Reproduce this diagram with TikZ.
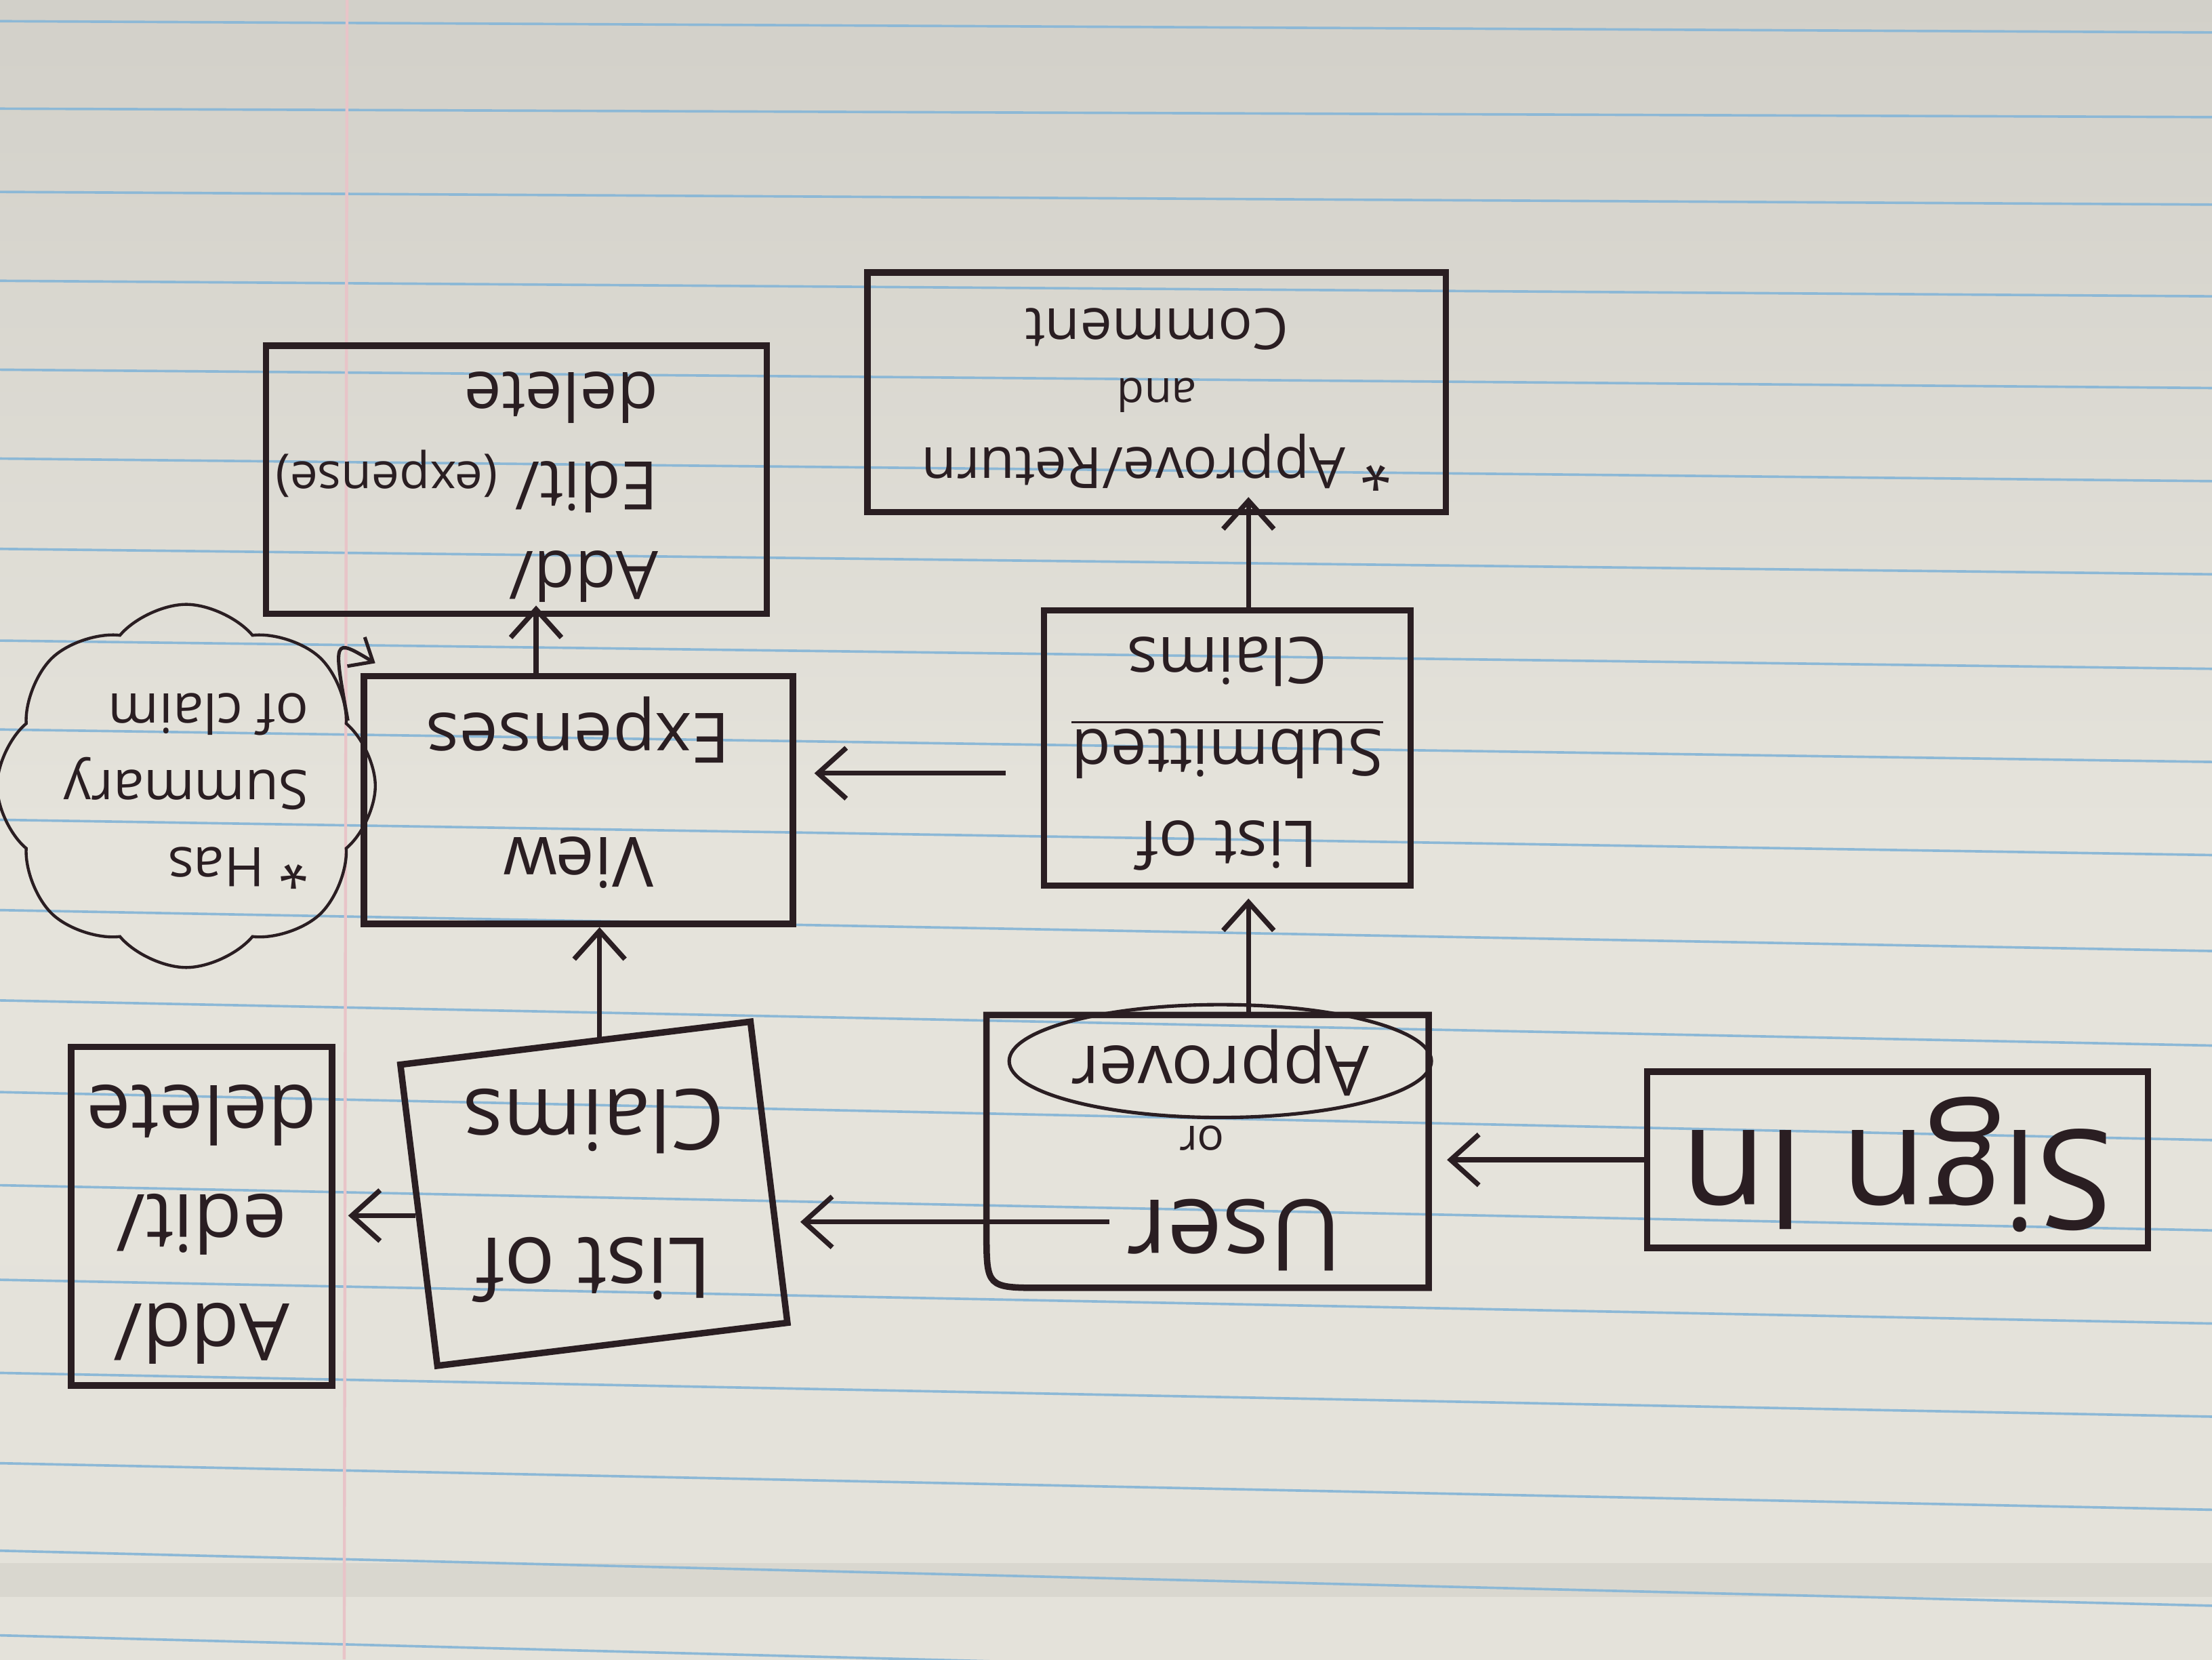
\documentclass[tikz,border=0pt]{standalone}
\usepackage{fontspec}
\setmainfont{Open Sans}
\usetikzlibrary{arrows.meta, positioning, shapes.geometric, shapes.symbols}
\definecolor{ink}{RGB}{42,30,34}
\definecolor{paper}{RGB}{229,227,219}
\definecolor{paperdark}{RGB}{210,208,201}
\definecolor{rule}{RGB}{140,184,214}
\definecolor{margin}{RGB}{232,196,200}
% upside-down text, as on the sheet
\newcommand{\flip}[1]{\rotatebox[origin=c]{180}{\begin{tabular}{@{}c@{}}#1\end{tabular}}}
\newcommand{\flipl}[2][0mm]{\rotatebox[origin=c]{180}{\begin{tabular}{@{\hspace{#1}}l@{}}#2\end{tabular}}}

\begin{document}
\begin{tikzpicture}[x=0.1mm, y=-0.1mm,
  box/.style={draw=ink, line width=1.3pt, inner sep=0pt, text=ink},
  flow/.style={draw=ink, line width=1pt, -{Straight Barb[length=2mm, width=3.6mm]}},
  hookflow/.style={draw=ink, line width=0.7pt, -{Straight Barb[length=1.4mm, width=2.4mm]}}]
  \useasboundingbox (0,0) rectangle (1568,1176);
  % paper
  \shade[top color=paperdark, bottom color=paper!95!paperdark, middle color=paper] (0,0) rectangle (1568,1176);
  \fill[paperdark, opacity=0.6] (0,1108) rectangle (1568,1132);
  \foreach \l/\r in {15/23,77/83,136/145,199/210,262/275,325/341,389/407,454/474,517/540,581/606,645/674,709/741,774/808,840/872,907/938,973/1004,1037/1070,1099/1138,1159/1200}
    \draw[rule, line width=0.5pt] (0,\l) -- (1568,\r);
  \draw[margin, line width=0.6pt] (246,0) -- (244,1176);

  % boxes
  \node[box, minimum width=35.5mm, minimum height=12.5mm, font=\fontsize{28}{30}\selectfont] (signin) at (1345,822) {\flip{Sign In}};
  \node[minimum width=31.2mm, minimum height=19.2mm, inner sep=0pt] (user) at (856,816) {};
  \draw[box] (user.north west) -- (user.north east) -- (user.south east) -- ([xshift=4mm]user.south west) .. controls (user.south west) .. ([yshift=4mm]user.south west) -- cycle;
  \node[text=ink, font=\fontsize{20}{22}\selectfont] (userlbl) at (875,866) {\flip{User}};
  \node[text=ink, font=\fontsize{9}{10}\selectfont] (orlbl) at (852,805) {\flip{or}};
  \node[draw=ink, line width=0.7pt, ellipse, inner sep=0pt, minimum width=25mm, minimum height=8mm, text=ink, font=\fontsize{14}{15}\selectfont] (approver) at (865,752) {\flip{Approver}};

  \node[box, rotate=7, minimum width=25mm, minimum height=21.5mm] (claimlist) at (421,846) {};
  \node[text=ink, font=\fontsize{17}{30}\selectfont] (claimtext) at (claimlist.center) {\flip{List of\\Claims}};
  \node[box, minimum width=18.5mm, minimum height=24mm, font=\fontsize{16}{22}\selectfont] (adddel) at (143,862) {\flip{Add/\\edit/\\delete}};
  \node[box, minimum width=30.4mm, minimum height=16.2mm, font=\fontsize{14}{25}\selectfont] (viewexp) at (410,567) {\flip{View\\Expenses}};
  \node[box, minimum width=35.5mm, minimum height=18mm, font=\fontsize{13.5}{18}\selectfont] (expedit) at (366,340) {\flipl[7mm]{Add/\\Edit/ {\fontsize{10}{12}\selectfont (expense)}\\delete}};
  \node[box, minimum width=26mm, minimum height=19.5mm, font=\fontsize{13}{18.5}\selectfont] (submitted) at (870,530) {\raisebox{1.5mm}{\flip{List of\\\underline{Submitted}\\Claims}}};
  \node[box, minimum width=41mm, minimum height=17mm, font=\fontsize{11.5}{14}\selectfont] (approve) at (820,278) {\flip{* Approve/Return\\{\fontsize{9}{10}\selectfont and}\\Comment}};
  \node[draw=ink, line width=0.6pt, cloud, cloud puffs=8, cloud puff arc=100, cloud ignores aspect, minimum width=18mm, minimum height=15.5mm, inner sep=0pt, text=ink, font=\fontsize{11}{15.5}\selectfont] (cloud) at (132,557) {\flipl{* Has\\Summary\\of claim}};
  \coordinate (hook) at (266,470);

  % connectors
  \draw[flow, shorten >=1.3mm] (signin.west) -- (signin.west -| user.east);
  \draw[flow, shorten >=2mm] (userlbl.west) -- (userlbl.west -| claimlist.east);
  \draw[flow, shorten >=0.9mm] (claimlist.west) -- (claimlist.west -| adddel.east);
  \draw[flow] ([xshift=1.5mm]viewexp.south |- claimlist.north) -- ([xshift=1.5mm]viewexp.south);
  \draw[flow, shorten >=-0.8mm] ([xshift=1.4mm]expedit.south |- viewexp.north) -- ([xshift=1.4mm]expedit.south);
  \draw[flow, shorten >=0.7mm] ([xshift=1.5mm]submitted.south |- user.north) -- ([xshift=1.5mm]submitted.south);
  \draw[flow, shorten <=2.5mm, shorten >=1.3mm] ([yshift=-1.8mm]submitted.west) -- ([yshift=-1.8mm]submitted.west -| viewexp.east);
  \draw[flow, shorten >=-1.3mm] ([xshift=1.5mm]submitted.north) -- ([xshift=1.5mm]submitted.north |- approve.south);
  \draw[hookflow] (cloud.22) .. controls (236,452) .. (hook);
\end{tikzpicture}
\end{document}
